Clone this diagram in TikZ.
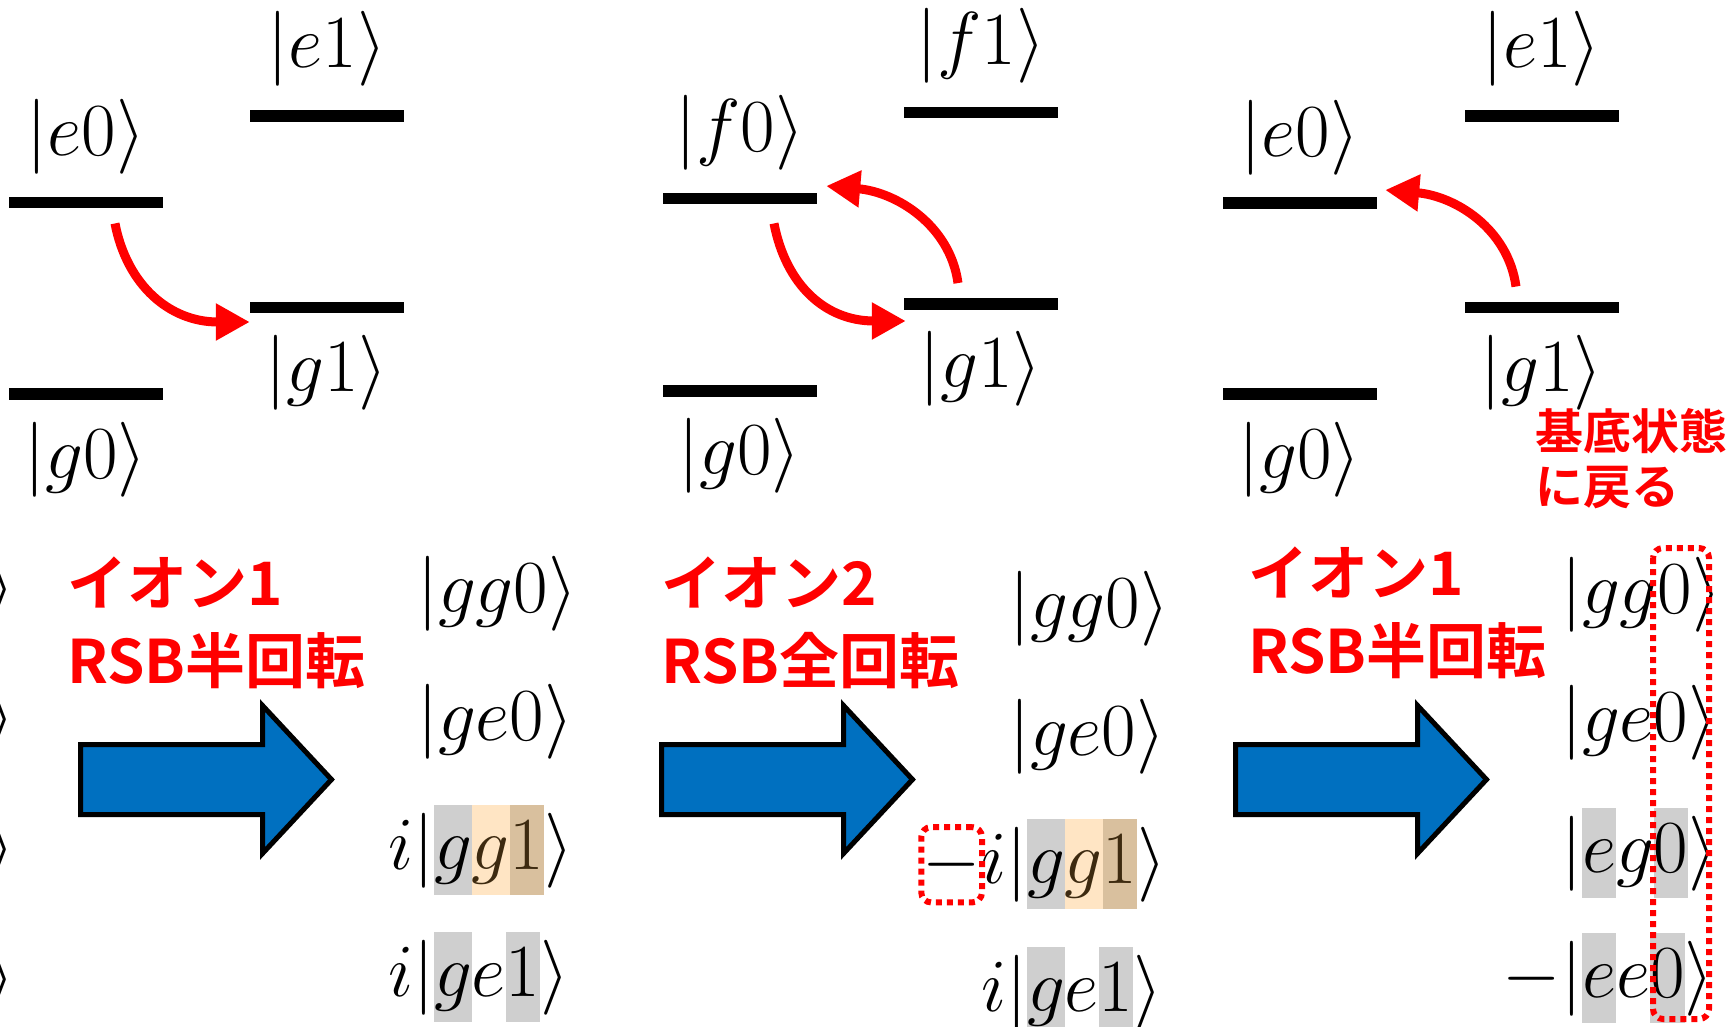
\RequirePackage{fix-cm}
\documentclass[tikz,border=0pt]{standalone}
\usepackage{fontspec}
\newfontfamily\jpfont{Noto Sans CJK JP Bold}
\usetikzlibrary{arrows.meta,positioning,fit}
\definecolor{rsbblue}{HTML}{0070C0}
\definecolor{hlgray}{HTML}{CFCFCF}
\definecolor{hlpeach}{HTML}{FFE5C4}
\definecolor{hltan}{HTML}{D9C09E}
\definecolor{hlbrown}{HTML}{3D2A10}
\newcommand{\hl}[2]{{\setlength{\fboxsep}{0pt}\colorbox{#1}{\rule[-0.34em]{0pt}{1.2em}$#2$}}}
\newcommand{\blockarrow}[1]{\draw[fill=rsbblue, line width=5pt] (#1,744.5) -- ++(182,0) -- ++(0,-39) -- (#1+251,779.5) -- (#1+182,853.5) -- ++(0,-39) -- (#1,814.5) -- cycle;}

\begin{document}
\begin{tikzpicture}[x=1pt,y=-1pt,
  level/.style={fill, minimum width=154pt, minimum height=11.5pt, inner sep=0pt},
  ket/.style={inner sep=0pt, font=\fontsize{75}{90}\selectfont},
  transition/.style={red, line width=9pt, -{Triangle[length=34pt,width=35pt]}},
  jplabel/.style={text=red, inner sep=0pt, anchor=base west, font=\jpfont\fontsize{60}{78}\selectfont},
  dotbox/.style={draw=red, line width=6pt, dash pattern=on 6pt off 5pt, rounded corners=10pt}]
\useasboundingbox (0,0) rectangle (1730,1027);

% level schemes
\node[level] (e0a) at (86,202.5) {};
\node[level] (e1a) at (327,116) {};
\node[level] (g1a) at (327,307.5) {};
\node[level] (g0a) at (86,394) {};
\node[ket, above=22pt of e0a] (le0a) {$|e0\rangle$};
\node[ket, above=24pt of e1a] (le1a) {$|e1\rangle$};
\node[ket, below=22pt of g1a] (lg1a) {$|g1\rangle$};
\node[ket, below=22pt of g0a] (lg0a) {$|g0\rangle$};

\node[level] (f0b) at (740,198.5) {};
\node[level] (f1b) at (981,112.5) {};
\node[level] (g1b) at (981,304) {};
\node[level] (g0b) at (740,391) {};
\node[ket, above=22pt of f0b] (lf0b) {$|f0\rangle$};
\node[ket, above=23pt of f1b] (lf1b) {$|f1\rangle$};
\node[ket, below=21pt of g1b] (lg1b) {$|g1\rangle$};
\node[ket, below=21pt of g0b] (lg0b) {$|g0\rangle$};

\node[level] (e0c) at (1300,203) {};
\node[level] (e1c) at (1541.5,116) {};
\node[level] (g1c) at (1541.5,307.5) {};
\node[level] (g0c) at (1300,394) {};
\node[ket, above=22pt of e0c] (le0c) {$|e0\rangle$};
\node[ket, above=24pt of e1c] (le1c) {$|e1\rangle$};
\node[ket, below=22pt of g1c] (lg1c) {$|g1\rangle$};
\node[ket, below=22pt of g0c] (lg0c) {$|g0\rangle$};

\draw[transition] ([shift={(29,15)}]e0a.south) .. controls +(12,62) and +(-80,0) .. ([shift={(0,14.5)}]g1a.west);
\draw[transition] ([shift={(34,19)}]f0b.south) .. controls +(12,62) and +(-80,0) .. ([shift={(2,17)}]g1b.west);
\draw[transition] ([shift={(-23,-15)}]g1b.north) .. controls +(-8,-58) and +(70,6) .. ([shift={(9,-12.5)}]f0b.east);
\draw[transition] ([shift={(-25.5,-15)}]g1c.north) .. controls +(-8,-58) and +(70,6) .. ([shift={(8,-13)}]e0c.east);

\node[jplabel, font=\jpfont\fontsize{48}{55}\selectfont] (back1) at (1535,449.5) {基底状態};
\node[jplabel, font=\jpfont\fontsize{48}{55}\selectfont] (back2) at (1535,504.5) {に戻る};

% state columns
\node[ket, anchor=base west] (p1) at (-15,608.5) {$\rangle$};
\node[ket, anchor=base west] (p2) at (-15,738.5) {$\rangle$};
\node[ket, anchor=base west] (p3) at (-15,868.5) {$\rangle$};
\node[ket, anchor=base west] (p4) at (-15,998.5) {$\rangle$};

\node[jplabel] (ion1) at (67,605) {イオン1};
\node[jplabel] (rsb1) at (67,683) {RSB半回転};
\blockarrow{80.5}
\node[ket, anchor=base west] (k1a) at (417,612.5) {$|gg0\rangle$};
\node[ket, anchor=base west] (k1b) at (417,740.5) {$|ge0\rangle$};
\node[ket, anchor=base west] (k1c) at (388,869) {$i|\hl{hlgray}{g}\hl{hlpeach}{\color{hlbrown}g}\hl{hltan}{\color{hlbrown}1}\rangle$};
\node[ket, anchor=base west] (k1d) at (388,996) {$i|\hl{hlgray}{g}e\hl{hlgray}{1}\rangle$};

\node[jplabel] (ion2) at (661,605) {イオン2};
\node[jplabel] (rsb2) at (661,683) {RSB全回転};
\blockarrow{661.5}
\node[ket, anchor=base west] (k2a) at (1009,627.5) {$|gg0\rangle$};
\node[ket, anchor=base west] (k2b) at (1009,755.5) {$|ge0\rangle$};
\node[ket, anchor=base west] (k2c) at (981,883.5) {$i|\hl{hlgray}{g}\hl{hlpeach}{\color{hlbrown}g}\hl{hltan}{\color{hlbrown}1}\rangle$};
\node[ket, anchor=base east] (m2) at (k2c.base west) {$-$};
\node[dotbox, fit=(m2), inner xsep=1pt, inner ysep=12.5pt] (sign2) {};
\node[ket, anchor=base west] (k2d) at (981,1011) {$i|\hl{hlgray}{g}e\hl{hlgray}{1}\rangle$};

\node[jplabel] (ion3) at (1248,595) {イオン1};
\node[jplabel] (rsb3) at (1248,673) {RSB半回転};
\blockarrow{1235.5}
\node[ket, anchor=base west] (k3a) at (1561,613.5) {$|gg0\rangle$};
\node[ket, anchor=base west] (k3b) at (1561,741.5) {$|ge0\rangle$};
\node[ket, anchor=base west] (k3c) at (1561,872) {$|\hl{hlgray}{e}g\hl{hlgray}{0}\rangle$};
\node[ket, anchor=base west] (k3d) at (1561,997) {$|\hl{hlgray}{e}e\hl{hlgray}{0}\rangle$};
\node[ket, anchor=base east] (m3) at (k3d.base west) {$-$};
\draw[dotbox] (1653,548) rectangle (1709,1019);
\end{tikzpicture}
\end{document}
